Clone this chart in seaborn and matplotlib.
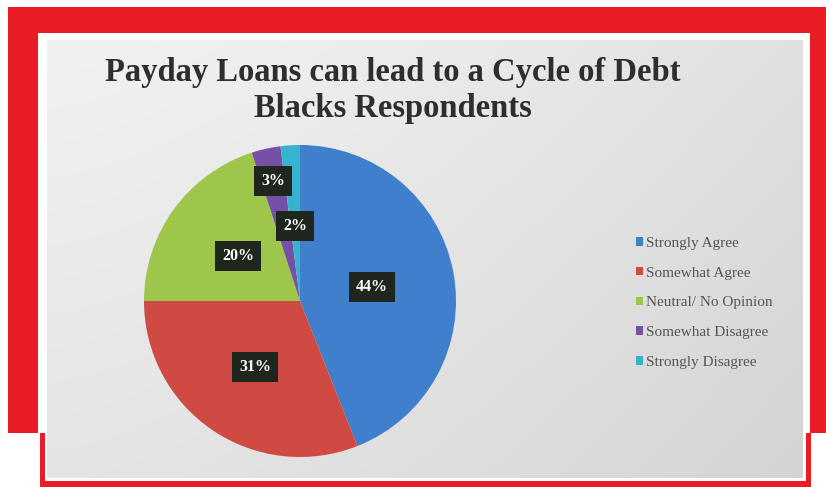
import numpy as np
import matplotlib
matplotlib.use("Agg")
import matplotlib.pyplot as plt
from matplotlib.patches import Rectangle
import seaborn as sns

# Survey responses
categories = ["Strongly Agree", "Somewhat Agree", "Neutral/ No Opinion",
              "Somewhat Disagree", "Strongly Disagree"]
shares = [44, 31, 20, 3, 2]
pct_labels = ["44%", "31%", "20%", "3%", "2%"]
title_lines = ["Payday Loans can lead to a Cycle of Debt", "Blacks Respondents"]

sns.set_style("white")
plt.rcParams["font.family"] = ["Liberation Serif", "DejaVu Serif"]

palette = sns.color_palette(["#3F7FCC", "#D04A44", "#9DC64A", "#7550A6", "#36B3CE"])

W, H = 826, 487
fig = plt.figure(figsize=(W / 100, H / 100), dpi=100)
fig.patch.set_facecolor("white")


def px_rect(x0, y0, x1, y1, **kw):
    """Rectangle given in pixel coordinates measured from the top-left."""
    fig.patches.append(Rectangle((x0 / W, 1 - y1 / H), (x1 - x0) / W, (y1 - y0) / H,
                                 transform=fig.transFigure, figure=fig, **kw))


red = "#EA1D26"
# thick outer frame (top, left, right)
px_rect(8, 7, 826, 33, color=red, lw=0, zorder=0)
px_rect(8, 7, 38, 433, color=red, lw=0, zorder=0)
px_rect(810, 7, 826, 433, color=red, lw=0, zorder=0)
# thin lower frame
px_rect(40, 433, 45, 487, color=red, lw=0, zorder=0)
px_rect(40, 481, 810, 487, color=red, lw=0, zorder=0)
px_rect(806, 433, 811, 487, color=red, lw=0, zorder=0)

# grey chart area with soft gradient
bg = fig.add_axes([47 / W, 1 - 478 / H, (803 - 47) / W, (478 - 40) / H], zorder=1)
xx = np.linspace(0, 1, 300)
yy = np.linspace(0, 1, 200)
X, Y = np.meshgrid(xx, yy)
shade = 0.925 - 0.065 * X ** 1.5 + 0.02 * (1 - Y) - 0.03 * Y
bg.imshow(np.dstack([shade, shade, shade]), aspect="auto", extent=(0, 1, 0, 1),
          origin="upper", interpolation="bilinear")
bg.set_axis_off()

# title
for i, line in enumerate(title_lines):
    fig.text(393 / W, 1 - (72 + 36 * i) / H, line, ha="center", va="center",
             fontsize=23.5, fontweight="bold", color="#2E2E2E", zorder=5)

# pie
cx, cy, r = 300, 301, 156
ax = fig.add_axes([(cx - r) / W, 1 - (cy + r) / H, 2 * r / W, 2 * r / H], zorder=2)
wedges, _ = ax.pie(shares, colors=palette, startangle=90, counterclock=False,
                   radius=1.0, wedgeprops=dict(linewidth=0))
ax.set_xlim(-1, 1)
ax.set_ylim(-1, 1)
ax.set_aspect("equal")
ax.set_axis_off()

label_dist = [0.47, 0.51, 0.49, 0.79, 0.48]
for w, lab, d in zip(wedges, pct_labels, label_dist):
    ang = np.deg2rad((w.theta1 + w.theta2) / 2)
    ax.text(d * np.cos(ang), d * np.sin(ang), lab, ha="center", va="center",
            fontsize=11.5, fontweight="bold", color="white", zorder=5,
            bbox=dict(boxstyle="square,pad=0.45", fc="#1E261E", ec="none"))

# legend
leg = fig.legend(wedges, categories, loc="upper left",
                 bbox_to_anchor=(622 / W, 1 - 223 / H), frameon=False,
                 fontsize=11, labelcolor="#555555", handlelength=0.5,
                 handleheight=0.5, handletextpad=0.2, labelspacing=1.1)
leg.set_zorder(5)

fig.savefig("out.png", dpi=100)
